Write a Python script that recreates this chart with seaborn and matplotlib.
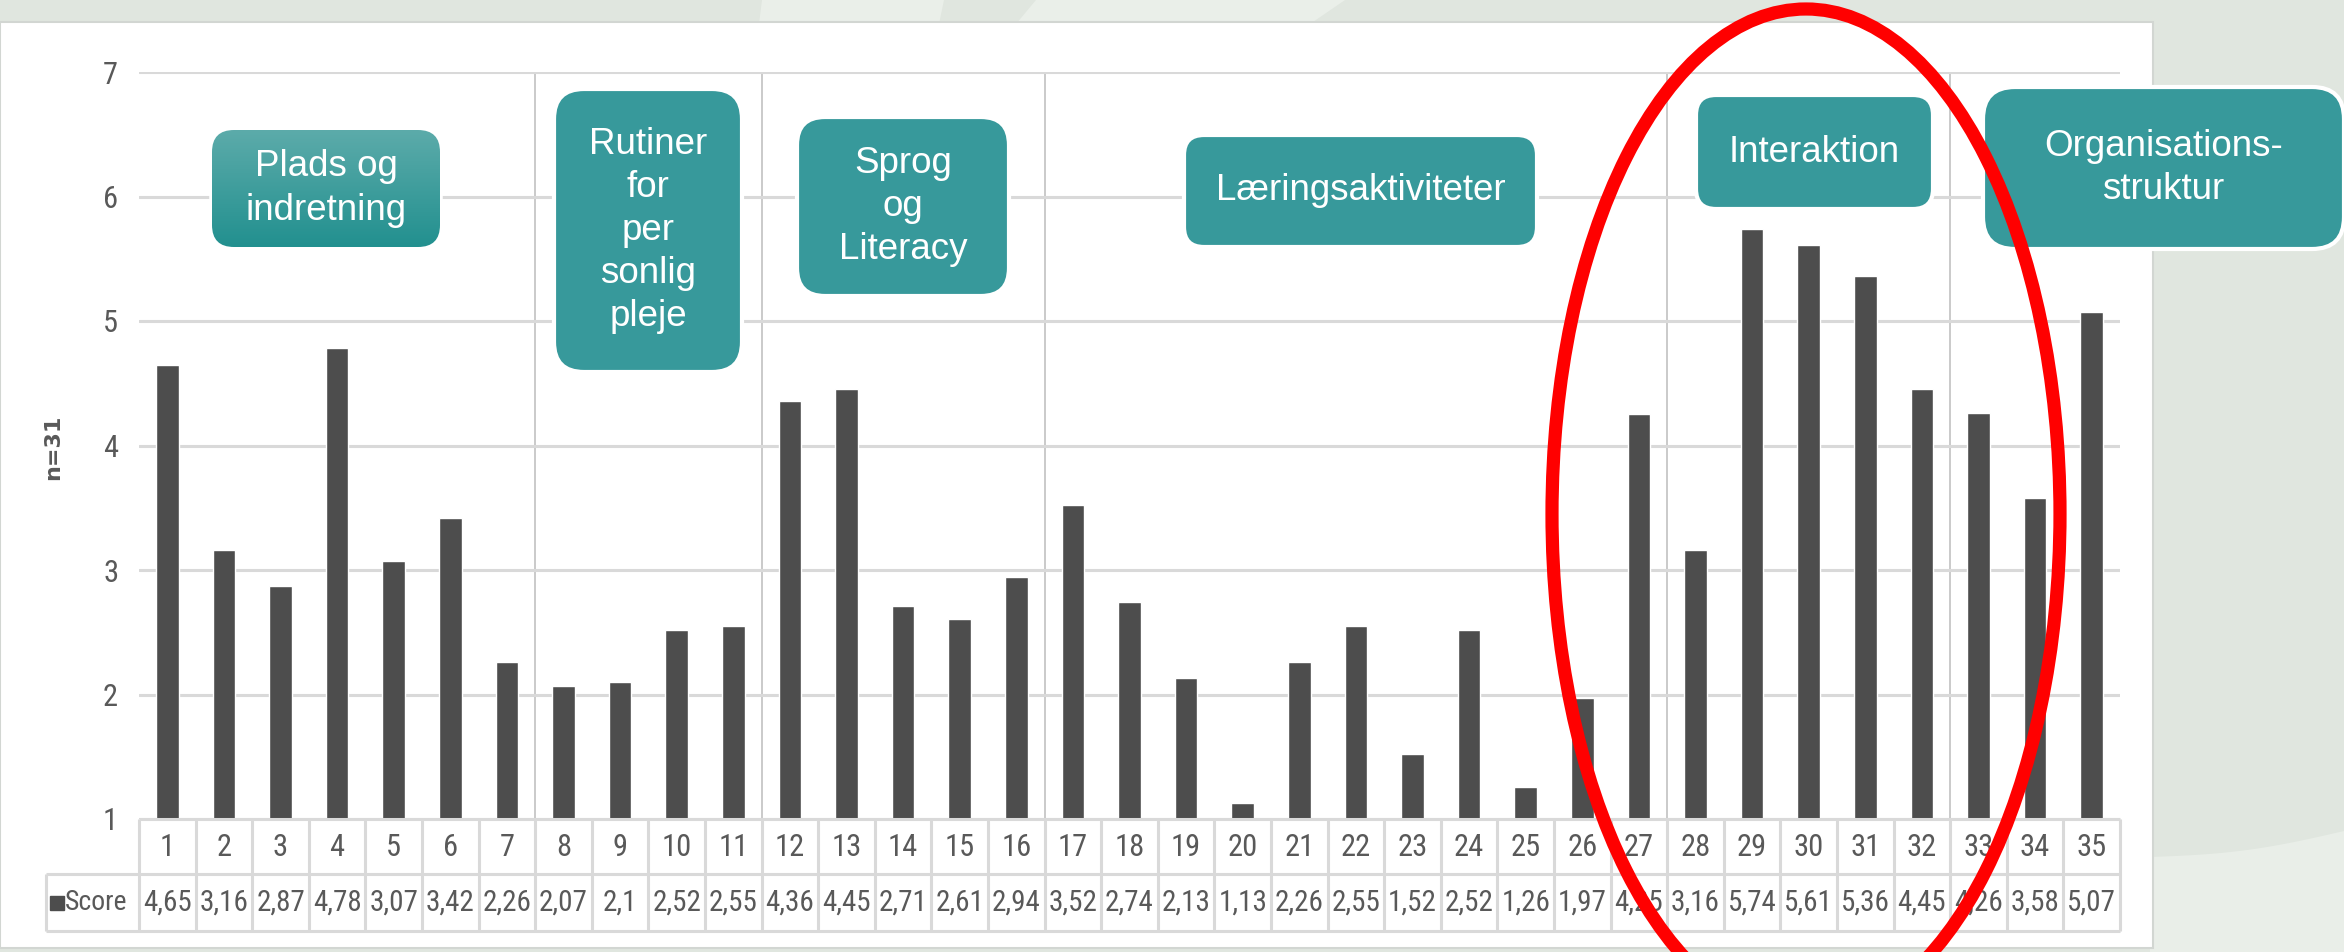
import matplotlib
matplotlib.use("Agg")
import matplotlib.pyplot as plt
from matplotlib import font_manager
from matplotlib.patches import FancyBboxPatch, Ellipse, Rectangle, Polygon
from matplotlib.colors import LinearSegmentedColormap
import numpy as np
import pandas as pd
import seaborn as sns

# ---------------- data ----------------
items = [str(i) for i in range(1, 36)]
scores = [4.65, 3.16, 2.87, 4.78, 3.07, 3.42, 2.26, 2.07, 2.10, 2.52, 2.55,
          4.36, 4.45, 2.71, 2.61, 2.94, 3.52, 2.74, 2.13, 1.13, 2.26, 2.55,
          1.52, 2.52, 1.26, 1.97, 4.25, 3.16, 5.74, 5.61, 5.36, 4.45, 4.26,
          3.58, 5.07]
group_names = ["Plads og\nindretning", "Rutiner\nfor\nper\nsonlig\npleje",
               "Sprog\nog\nLiteracy", "Læringsaktiviteter", "Interaktion",
               "Organisations-\nstruktur"]
group_last_item = [7, 11, 16, 27, 32, 35]
y_ticks = [1, 2, 3, 4, 5, 6, 7]
y_label = "n=31"
row_label = "Score"

df = pd.DataFrame({"item": items, "score": scores})

# ---------------- style ----------------
sns.set_theme(style="white")
names = {f.name for f in font_manager.fontManager.ttflist}
narrow = [n for n in ["Liberation Sans Narrow", "Roboto Condensed", "Liberation Sans"] if n in names]
narrow = narrow + ["DejaVu Sans"]
plt.rcParams["font.family"] = narrow
box_font = ["Liberation Sans", "DejaVu Sans"]

W, H = 2344, 952
BG = "#E0E6DF"
LIGHT = "#EAEFE9"
TEAL = "#37999B"
BAR = "#4D4D4D"
TXT = "#595959"
GRID = "#D9D9D9"

fig = plt.figure(figsize=(W / 100, H / 100), dpi=100)
fig.patch.set_facecolor(BG)

# background layer (pixel coordinates)
bg = fig.add_axes([0, 0, 1, 1], zorder=0)
bg.set_xlim(0, W); bg.set_ylim(H, 0); bg.axis("off")
bg.add_patch(Polygon([(762, 0), (944, 0), (939, 24), (759, 24)], closed=True, fc=LIGHT, ec="none"))
bg.add_patch(Polygon([(1036, 0), (1345, 0), (1310, 24), (1016, 24)], closed=True, fc=LIGHT, ec="none"))
xs = np.linspace(2150, W, 50)
ys = 857 - (xs - 2150) / (W - 2150) * 26 + 6 * np.sin((xs - 2150) / (W - 2150) * np.pi)
bg.add_patch(Polygon(list(zip(xs, ys)) + [(W, H), (2150, H)], closed=True, fc="#E9EEE8", ec="none"))
bg.add_patch(Rectangle((0, 22), 2153, 926, fc="white", ec="#D2D6D2", lw=1.5))

# main bar axes
x0p, x1p, ytop, ybot = 139, 2120, 72, 819
ax = fig.add_axes([x0p / W, 1 - ybot / H, (x1p - x0p) / W, (ybot - ytop) / H], zorder=1)
ax.patch.set_alpha(0)
sns.barplot(data=df, x="item", y="score", color=BAR, saturation=1, width=0.40, ax=ax)
ax.set_ylim(1, 7)
ax.set_xlim(-0.5, len(items) - 0.5)
ax.set_yticks(y_ticks)
ax.set_yticklabels([str(t) for t in y_ticks], fontsize=22, color=TXT)
ax.tick_params(axis="y", length=0, pad=15)
ax.set_xticks([])
ax.set_xlabel(""); ax.set_ylabel("")
ax.yaxis.grid(True, color=GRID, lw=2.2)
ax.xaxis.grid(False)
ax.set_axisbelow(True)
for s in ax.spines.values():
    s.set_visible(False)
for last in group_last_item[:-1]:
    ax.axvline(last - 0.5, color="#CACACA", lw=1.4, zorder=0)

fig.text(53 / W, 1 - 447 / H, y_label, rotation=90, fontsize=16, fontweight="bold",
         color=TXT, ha="center", va="center", family=["DejaVu Sans"])

# data table under the bars
tb = fig.add_axes([x0p / W, 1 - 931 / H, (x1p - x0p) / W, (931 - ybot) / H], zorder=1)
tb.set_xlim(-0.5, len(items) - 0.5); tb.set_ylim(2, 0); tb.axis("off")
lead = -0.5 - (x0p - 46) / ((x1p - x0p) / len(items))
lk = dict(color=GRID, lw=2.2, clip_on=False, solid_capstyle="butt")
tb.plot([-0.5, len(items) - 0.5], [0, 0], **lk)
tb.plot([lead, len(items) - 0.5], [0.98, 0.98], **lk)
tb.plot([lead, len(items) - 0.5], [2, 2], **lk)
for k in range(len(items) + 1):
    tb.plot([k - 0.5, k - 0.5], [0, 2], **lk)
tb.plot([lead, lead], [0.98, 2], **lk)
for i, (it, v) in enumerate(zip(items, scores)):
    tb.text(i, 0.5, it, ha="center", va="center", fontsize=22, color=TXT)
    tb.text(i, 1.5, f"{v:g}".replace(".", ","), ha="center", va="center", fontsize=21, color=TXT)
tb.plot([lead + 0.2], [1.5], marker="s", ms=10, color=BAR, clip_on=False)
tb.text(lead + 0.33, 1.5, row_label, ha="left", va="center", fontsize=20, color=TXT)

# overlay: category boxes and the red ellipse
ov = fig.add_axes([0, 0, 1, 1], zorder=3)
ov.axis("off")
box_layout = [  # x, y, w, h, corner radius
    (212, 130, 228, 117, 22),
    (554, 89, 188, 283, 30),
    (797, 117, 212, 179, 28),
    (1184, 135, 353, 112, 20),
    (1696, 95, 237, 114, 20),
    (1983, 87, 361, 162, 32),
]
grad_cmap = LinearSegmentedColormap.from_list("g", ["#5CABAA", "#22908F"])
for k, (name, (bx, by, bw, bh, r)) in enumerate(zip(group_names, box_layout)):
    style = f"round,pad=0,rounding_size={r}"
    if k == 0:
        under = FancyBboxPatch((bx, by), bw, bh, boxstyle=style, fc="white", ec="white", lw=4, zorder=2)
        ov.add_patch(under)
        clip = FancyBboxPatch((bx, by), bw, bh, boxstyle=style, fc="none", ec="none", zorder=3)
        ov.add_patch(clip)
        im = ov.imshow(np.linspace(0, 1, 200).reshape(-1, 1), cmap=grad_cmap,
                       extent=(bx, bx + bw, by + bh, by), origin="upper", aspect="auto", zorder=3)
        im.set_clip_path(clip)
    else:
        ov.add_patch(FancyBboxPatch((bx, by), bw, bh, boxstyle=style, fc=TEAL, ec="white", lw=3, zorder=3))
    ov.text(bx + bw / 2, by + bh / 2, name, ha="center", va="center", fontsize=26.5,
            color="white", family=box_font, linespacing=1.3, zorder=4)

ov.add_patch(Ellipse((1806, 514), 2 * 254, 2 * 505, fill=False, ec="#FF0000", lw=9.5, zorder=5))
ov.set_xlim(0, W); ov.set_ylim(H, 0)

fig.savefig("out.png", dpi=100, facecolor=fig.get_facecolor())
